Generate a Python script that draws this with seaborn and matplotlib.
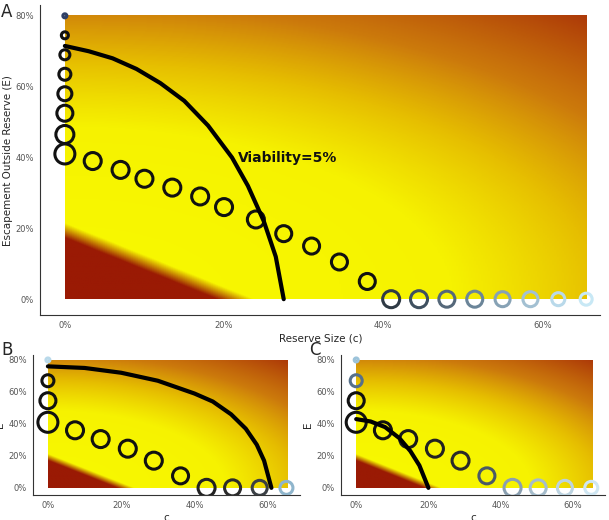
import numpy as np
import pandas as pd
import matplotlib
matplotlib.use("Agg")
import matplotlib.pyplot as plt
import seaborn as sns
from matplotlib.colors import LinearSegmentedColormap, to_rgb
from matplotlib.ticker import PercentFormatter

# panel A points
a_c = [0, 0, 0, 0, 0, 0, 0, 0, 0.035, 0.07, 0.1, 0.135, 0.17, 0.2, 0.24, 0.275, 0.31, 0.345, 0.38,
       0.41, 0.445, 0.48, 0.515, 0.55, 0.585, 0.62, 0.655]
a_e = [0.8, 0.745, 0.69, 0.635, 0.58, 0.525, 0.465, 0.41, 0.39, 0.365, 0.34, 0.315, 0.29, 0.26, 0.225,
       0.185, 0.15, 0.105, 0.05, 0, 0, 0, 0, 0, 0, 0, 0]
a_size = [4, 7, 10, 12, 14, 16, 18, 20, 17, 17, 17, 17, 17, 17, 17, 16, 16, 16, 16,
          17, 17, 16, 16, 15, 15, 13, 12]
a_col = ['#2f3f66'] + ['#111111'] * 18 + ['#2f3a45', '#3f5060', '#55687a', '#6b8599', '#87a2b5',
                                          '#a3c0d2', '#b9d9ea', '#c8e8f5']
a_curve_c = [0, 0.03, 0.06, 0.09, 0.12, 0.15, 0.18, 0.21, 0.23, 0.25, 0.265, 0.275]
a_curve_e = [0.715, 0.70, 0.68, 0.65, 0.61, 0.56, 0.49, 0.40, 0.32, 0.22, 0.12, 0]

# panel B points
b_c = [0, 0, 0, 0, 0.074, 0.144, 0.218, 0.289, 0.362, 0.433, 0.504, 0.578, 0.651]
b_e = [0.8, 0.67, 0.545, 0.41, 0.36, 0.305, 0.245, 0.17, 0.075, 0, 0, 0, 0]
b_size = [4, 12, 16, 20, 17, 17, 17, 17, 16, 17, 16, 15, 13]
b_col = ['#b9d9ea', '#111111', '#111111', '#111111', '#111111', '#111111', '#111111', '#111111',
         '#111111', '#222222', '#2a2a2a', '#3a3f44', '#8fb5cc']
b_curve_c = [0, 0.1, 0.2, 0.3, 0.4, 0.45, 0.5, 0.54, 0.57, 0.59, 0.61]
b_curve_e = [0.76, 0.75, 0.72, 0.67, 0.59, 0.54, 0.46, 0.37, 0.27, 0.17, 0]

# panel C points
c_c = b_c
c_e = b_e
c_size = b_size
c_col = ['#9cc3da', '#56708a', '#111111', '#111111', '#111111', '#1a1a1a', '#222222', '#2a2a2a',
         '#4a5966', '#8a9fb0', '#a5bccb', '#bcd3e0', '#cfe6f2']
c_curve_c = [0, 0.04, 0.08, 0.12, 0.15, 0.175, 0.2]
c_curve_e = [0.43, 0.415, 0.38, 0.31, 0.23, 0.14, 0]

bg = LinearSegmentedColormap.from_list(
    'bg', [(0, '#f8f800'), (0.22, '#f6f200'), (0.42, '#e6be00'), (0.65, '#cc7a0c'), (1, '#ad3a08')])


def background(ax):
    cc, ee = np.meshgrid(np.linspace(0, 0.655, 300), np.linspace(0, 0.8, 300))
    t = np.clip(0.4 * (cc / 0.655) ** 2 + 0.6 * (ee / 0.8) ** 2, 0, 1)
    rgb = bg(t)[..., :3]
    b = cc / 0.21 + ee / 0.19
    r = np.clip((1.12 - b) / 0.22, 0, 1)[..., None]
    red = np.array(to_rgb('#9a1a04'))
    rgb = rgb * (1 - r) + red * r
    ax.imshow(rgb, origin='lower', extent=[0, 0.655, 0, 0.8], aspect='auto', zorder=0)


def panel(ax, xs, ys, sizes, cols, cx, cy, xlabel, ylabel, xlim):
    background(ax)
    df = pd.DataFrame({'c': xs, 'E': ys, 's': [(d * 0.72) ** 2 for d in sizes], 'col': cols})
    ax.scatter(df['c'], df['E'], s=df['s'], facecolors='none', edgecolors=df['col'],
               linewidths=2.2, zorder=3)
    sns.lineplot(x=cx, y=cy, ax=ax, color='black', linewidth=3, sort=False, zorder=4)
    ax.xaxis.set_major_formatter(PercentFormatter(1, decimals=0))
    ax.yaxis.set_major_formatter(PercentFormatter(1, decimals=0))
    ax.set_xticks([0, 0.2, 0.4, 0.6])
    ax.set_yticks([0, 0.2, 0.4, 0.6, 0.8])
    ax.set_xlim(*xlim)
    ax.set_ylim(-0.045, 0.83)
    ax.set_xlabel(xlabel, fontsize=7.5, labelpad=2)
    ax.set_ylabel(ylabel, fontsize=7.5, labelpad=2)
    ax.tick_params(labelsize=6, labelcolor='#555555', color='#555555', length=2.5, pad=2)
    for s in ['top', 'right']:
        ax.spines[s].set_visible(False)
    for s in ['left', 'bottom']:
        ax.spines[s].set_color('#333333')
        ax.spines[s].set_linewidth(0.8)


sns.set_style('white')
fig = plt.figure(figsize=(6.09, 5.20), dpi=100)
axA = fig.add_axes([0.066, 0.394, 0.92, 0.596])
axB = fig.add_axes([0.054, 0.048, 0.438, 0.269])
axC = fig.add_axes([0.560, 0.048, 0.434, 0.269])

panel(axA, a_c, a_e, a_size, a_col, a_curve_c, a_curve_e, 'Reserve Size (c)',
      'Escapement Outside Reserve (E)', (-0.031, 0.673))
axA.text(0.218, 0.40, 'Viability=5%', fontsize=10, fontweight='bold', color='#111111', va='center')
panel(axB, b_c, b_e, b_size, b_col, b_curve_c, b_curve_e, 'c', 'E', (-0.041, 0.687))
panel(axC, c_c, c_e, c_size, c_col, c_curve_c, c_curve_e, 'c', 'E', (-0.042, 0.69))

fig.text(0.002, 0.995, 'A', fontsize=12, va='top')
fig.text(0.002, 0.345, 'B', fontsize=12, va='top')
fig.text(0.508, 0.345, 'C', fontsize=12, va='top')

plt.savefig('out.png', dpi=100)
